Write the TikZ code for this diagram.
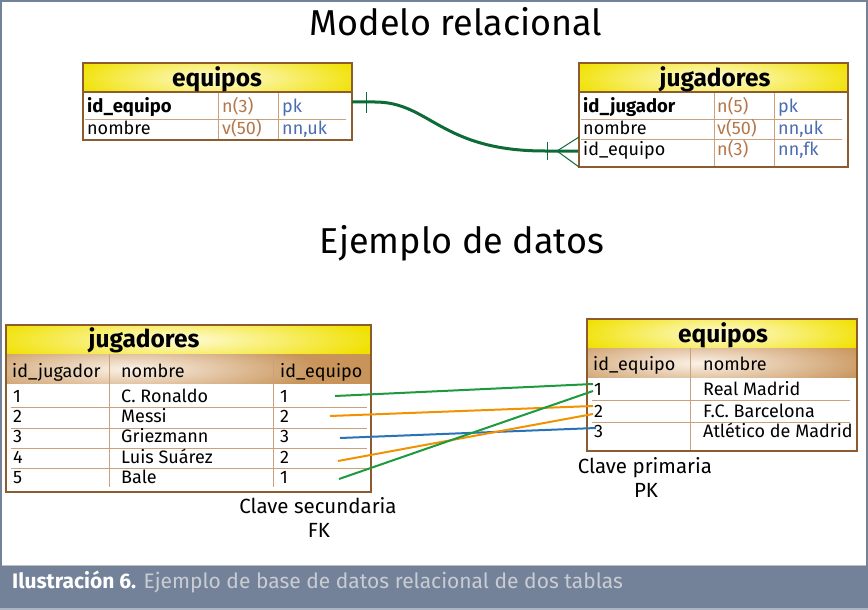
\documentclass[tikz,border=0pt]{standalone}
\usepackage{fontspec}
\setmainfont{Fira Sans}
\definecolor{framec}{HTML}{738299}
\definecolor{ybase}{HTML}{F0E100}
\definecolor{ylight}{HTML}{FFFBDA}
\definecolor{tanc}{HTML}{C8945A}
\definecolor{tanl}{HTML}{FBF2E8}
\definecolor{brd}{HTML}{8C5B2E}
\definecolor{sepc}{HTML}{C9A27C}
\definecolor{typec}{HTML}{B5764A}
\definecolor{consc}{HTML}{4C6CB0}
\definecolor{relc}{HTML}{0E6B38}
\definecolor{lgreen}{HTML}{1E9A3E}
\definecolor{lorange}{HTML}{F39200}
\definecolor{lblue}{HTML}{2A72B8}
\definecolor{capgray}{HTML}{C9CDD3}
\begin{document}
\begin{tikzpicture}[x=1pt,y=-1pt,
  bord/.style={draw=brd, line width=2pt},
  sepl/.style={draw=sepc, line width=1pt},
  cell/.style={anchor=base west, inner sep=0pt, font=\fontsize{18}{20}\selectfont},
  cellb/.style={cell, font=\fontsize{18.5}{20}\selectfont\bfseries},
  typ/.style={cell, text=typec},
  cons/.style={cell, text=consc},
  hdr/.style={anchor=base, inner sep=0pt, font=\fontsize{24.5}{26}\selectfont\bfseries},
  ttl/.style={anchor=base, inner sep=0pt, font=\fontsize{36}{40}\selectfont},
  lbl/.style={anchor=base, inner sep=0pt, font=\fontsize{20.5}{22}\selectfont},
  rel/.style={draw=relc, line width=3pt},
  relthin/.style={draw=relc, line width=1pt},
  dl/.style={line width=2pt}]
\useasboundingbox (0,0) rectangle (868,610);
% frame and caption bar
\fill[framec] (0,0) rectangle (868,2);
\fill[framec] (0,0) rectangle (2,610);
\fill[framec] (866,0) rectangle (868,610);
\fill[framec] (0,565) rectangle (868,610);
\draw[color=white!75!black, line width=1pt] (2,565.5) -- (866,565.5);
\fill[color=framec!60!white] (0,607.5) rectangle (868,610);
\node[anchor=base west, inner sep=0pt, font=\fontsize{21}{24}\selectfont] (cap) at (12,588)
  {\textcolor{white}{\bfseries Ilustración 6.} \textcolor{capgray}{Ejemplo de base de datos relacional de dos tablas}};

% titles
\node[ttl] (t1) at (456,36) {Modelo relacional};
\node[ttl] (t2) at (462,253) {Ejemplo de datos};

% ---------- top-left table: equipos ----------
\begin{scope}
\clip (83,63) rectangle (352,92);
\fill[ybase] (83,63) rectangle (352,92);
\shade[inner color=ylight, outer color=ybase] (67,49) rectangle (367,107);
\end{scope}
\fill[white] (83,92) rectangle (352,140);
\draw[sepl] (85,119) -- (346,119);
\draw[sepl] (218,92) -- (218,140);
\draw[sepl] (278,92) -- (278,140);
\draw[bord] (83,92) -- (352,92);
\draw[bord] (83,63) rectangle (352,140);
\node[hdr] (eqh) at (217,86) {equipos};
\node[cellb] (eq11) at (87,113) {id\_equipo};
\node[typ] (eq12) at (222,113) {n(3)};
\node[cons] (eq13) at (282,113) {pk};
\node[cell] (eq21) at (87,134) {nombre};
\node[typ] (eq22) at (222,134) {v(50)};
\node[cons] (eq23) at (282,134) {nn,uk};

% ---------- top-right table: jugadores ----------
\begin{scope}
\clip (579,63) rectangle (848,92);
\fill[ybase] (579,63) rectangle (848,92);
\shade[inner color=ylight, outer color=ybase] (563,49) rectangle (863,107);
\end{scope}
\fill[white] (579,92) rectangle (848,167);
\draw[sepl] (581,119) -- (842,119);
\draw[sepl] (581,139) -- (842,139);
\draw[sepl] (714,92) -- (714,167);
\draw[sepl] (774,92) -- (774,167);
\draw[bord] (579,92) -- (848,92);
\draw[bord] (579,63) rectangle (848,167);
\node[hdr] (jgh) at (715,87) {jugadores};
\node[cellb] (jg11) at (583,113) {id\_jugador};
\node[typ] (jg12) at (717,113) {n(5)};
\node[cons] (jg13) at (778,113) {pk};
\node[cell] (jg21) at (583,134) {nombre};
\node[typ] (jg22) at (717,134) {v(50)};
\node[cons] (jg23) at (778,134) {nn,uk};
\node[cell] (jg31) at (583,155) {id\_equipo};
\node[typ] (jg32) at (717,155) {n(3)};
\node[cons] (jg33) at (778,155) {nn,fk};

% relation connector
\coordinate (eqR) at (352,102);
\coordinate (jgL) at (578,151);
\coordinate (crow) at (557,151);
\draw[rel] (eqR) -- (375,102) .. controls (430,102) and (440,151) .. (545,151) -- (jgL);
\draw[relthin] (366,92) -- (366,113);
\draw[relthin] (547,142) -- (547,160);
\draw[relthin] (crow) -- (579,137);
\draw[relthin] (crow) -- (579,167);

% ---------- bottom-left table: jugadores (data) ----------
\begin{scope}
\clip (6,325) rectangle (371,354);
\fill[ybase] (6,325) rectangle (371,354);
\shade[inner color=ylight, outer color=ybase] (-20,311) rectangle (380,368);
\end{scope}
\begin{scope}
\clip (6,354) rectangle (371,384);
\fill[tanc] (6,354) rectangle (371,384);
\shade[inner color=tanl, outer color=tanc] (-60,339) rectangle (320,399);
\end{scope}
\fill[white] (6,384) rectangle (371,492);
\foreach \yy in {407,428,448,468} \draw[sepl] (11,\yy) -- (367,\yy);
\draw[sepl] (109,354) -- (109,487);
\draw[sepl] (273,354) -- (273,487);
\draw[bord] (6,325) rectangle (371,492);
\node[hdr] (dj) at (144,347) {jugadores};
\node[cell] (djh1) at (12,377) {id\_jugador};
\node[cell] (djh2) at (121,377) {nombre};
\node[cell] (djh3) at (280,377) {id\_equipo};
\node[cell] (dj11) at (13,402) {1};
\node[cell] (dj12) at (121,402) {C. Ronaldo};
\node[cell] (dj13) at (280,402) {1};
\node[cell] (dj21) at (13,422) {2};
\node[cell] (dj22) at (121,422) {Messi};
\node[cell] (dj23) at (280,422) {2};
\node[cell] (dj31) at (13,442) {3};
\node[cell] (dj32) at (121,442) {Griezmann};
\node[cell] (dj33) at (280,442) {3};
\node[cell] (dj41) at (13,463) {4};
\node[cell] (dj42) at (121,463) {Luis Suárez};
\node[cell] (dj43) at (280,463) {2};
\node[cell] (dj51) at (13,483) {5};
\node[cell] (dj52) at (121,483) {Bale};
\node[cell] (dj53) at (280,483) {1};

% ---------- bottom-right table: equipos (data) ----------
\begin{scope}
\clip (587,319) rectangle (857,348);
\fill[ybase] (587,319) rectangle (857,348);
\shade[inner color=ylight, outer color=ybase] (572,305) rectangle (872,362);
\end{scope}
\begin{scope}
\clip (587,348) rectangle (857,378);
\fill[tanc] (587,348) rectangle (857,378);
\shade[inner color=tanl, outer color=tanc] (520,333) rectangle (880,393);
\end{scope}
\fill[white] (587,378) rectangle (857,451);
\draw[sepl] (592,400) -- (850,400);
\draw[sepl] (592,422) -- (850,422);
\draw[sepl] (690,348) -- (690,451);
\draw[bord] (587,319) rectangle (857,451);
\node[hdr] (de) at (723,342) {equipos};
\node[cell] (deh1) at (593,370) {id\_equipo};
\node[cell] (deh2) at (703,370) {nombre};
\node[cell] (de11) at (594,395) {1};
\node[cell] (de12) at (703,395) {Real Madrid};
\node[cell] (de21) at (594,417) {2};
\node[cell] (de22) at (703,417) {F.C. Barcelona};
\node[cell] (de31) at (594,437) {3};
\node[cell] (de32) at (703,437) {Atlético de Madrid};

% data connectors
\coordinate (fk1) at (335,396);
\coordinate (fk2) at (330,416);
\coordinate (fk3) at (340,438);
\coordinate (fk4) at (338,461);
\coordinate (fk5) at (339,479);
\coordinate (pk1a) at (593,384);
\coordinate (pk1b) at (593,391);
\coordinate (pk2a) at (593,406);
\coordinate (pk2b) at (593,414);
\coordinate (pk3) at (596,428);
\draw[dl, lgreen] (fk1) -- (pk1a);
\draw[dl, lorange] (fk2) -- (pk2a);
\draw[dl, lblue] (fk3) -- (pk3);
\draw[dl, lorange] (fk4) -- (pk2b);
\draw[dl, lgreen] (fk5) -- (pk1b);

% labels
\node[lbl] (fkl1) at (318,513) {Clave secundaria};
\node[lbl] (fkl2) at (319,537) {FK};
\node[lbl] (pkl1) at (645,473) {Clave primaria};
\node[lbl] (pkl2) at (646,497) {PK};
\end{tikzpicture}
\end{document}
